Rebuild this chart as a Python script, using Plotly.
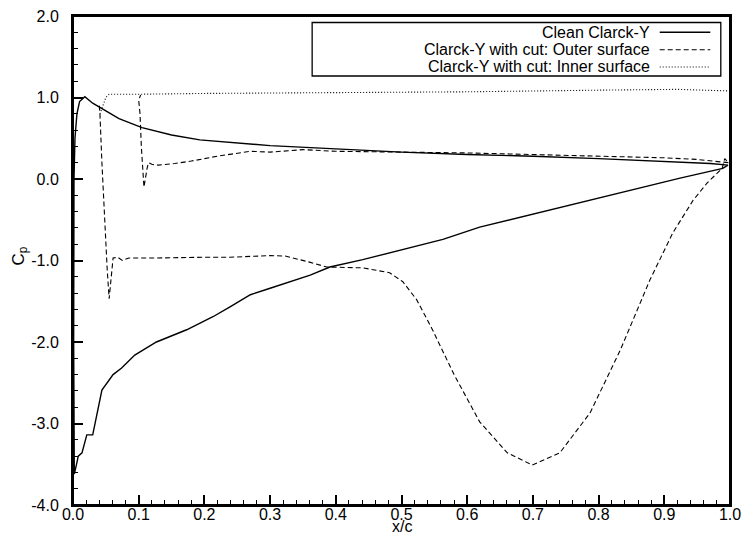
import plotly.graph_objects as go

# Clean Clarck-Y (closed loop: suction side TE->LE, then pressure side LE->TE)
clean_x = [0.997, 0.989, 0.924, 0.863, 0.787, 0.700, 0.665, 0.619, 0.563, 0.508,
           0.441, 0.391, 0.361, 0.300, 0.270, 0.239, 0.213, 0.173, 0.127, 0.094,
           0.074, 0.061, 0.044, 0.030, 0.021, 0.0137, 0.008, 0.0046, 0.002,
           0.001, 0.0015, 0.003, 0.006, 0.010, 0.018, 0.030, 0.046, 0.070, 0.105,
           0.150, 0.193, 0.250, 0.300, 0.400, 0.500, 0.600, 0.700, 0.800, 0.863,
           0.930, 0.970, 0.997]
clean_cp = [0.17, 0.13, 0.01, -0.11, -0.26, -0.44, -0.50, -0.59, -0.74, -0.85,
            -0.99, -1.08, -1.18, -1.34, -1.42, -1.57, -1.69, -1.85, -2.00, -2.16,
            -2.32, -2.40, -2.59, -3.14, -3.14, -3.36, -3.40, -3.53, -3.62,
            -2.00, 0.00, 0.50, 0.80, 0.95, 1.01, 0.93, 0.85, 0.74, 0.63,
            0.54, 0.48, 0.44, 0.41, 0.37, 0.33, 0.30, 0.28, 0.25, 0.23,
            0.21, 0.19, 0.17]

# Clarck-Y with cut: outer surface
outer_x = [0.040, 0.041, 0.044, 0.048, 0.052, 0.055, 0.058, 0.061, 0.068, 0.075,
           0.085, 0.120, 0.200, 0.239, 0.300, 0.323, 0.360, 0.386, 0.441, 0.482,
           0.502, 0.523, 0.546, 0.580, 0.619, 0.661, 0.699, 0.741, 0.787, 0.833,
           0.878, 0.913, 0.944, 0.965, 0.988, 0.992, 0.998,
           0.950, 0.900, 0.800, 0.700, 0.600, 0.500, 0.400, 0.350, 0.300, 0.270,
           0.220, 0.180, 0.155, 0.130, 0.120, 0.115, 0.113, 0.108, 0.104, 0.102,
           0.100, 0.103]
outer_cp = [0.90, 0.80, 0.20, -0.50, -1.10, -1.47, -1.20, -0.97, -0.96, -1.00,
            -0.97, -0.97, -0.96, -0.96, -0.94, -0.945, -1.02, -1.08, -1.09, -1.15,
            -1.26, -1.48, -1.83, -2.40, -2.98, -3.36, -3.51, -3.36, -2.87, -2.10,
            -1.24, -0.66, -0.26, -0.05, 0.13, 0.25, 0.20,
            0.24, 0.26, 0.28, 0.30, 0.32, 0.33, 0.34, 0.36, 0.33, 0.34,
            0.28, 0.22, 0.19, 0.17, 0.18, 0.20, 0.14, -0.10, 0.40, 0.80,
            0.97, 1.03]

# Clarck-Y with cut: inner surface
inner_x = [0.041, 0.045, 0.050, 0.055, 0.100, 0.200, 0.400, 0.600, 0.800, 0.880, 0.920, 1.000]
inner_cp = [0.80, 0.90, 1.00, 1.04, 1.04, 1.05, 1.06, 1.07, 1.09, 1.10, 1.10, 1.08]

legend_names = ["Clean Clarck-Y",
                "Clarck-Y with cut: Outer surface",
                "Clarck-Y with cut: Inner surface"]
x_ticks = [0.0, 0.1, 0.2, 0.3, 0.4, 0.5, 0.6, 0.7, 0.8, 0.9, 1.0]
y_ticks = [-4.0, -3.0, -2.0, -1.0, 0.0, 1.0, 2.0]

FONT = "Liberation Sans, Arial, sans-serif"
styles = [dict(width=1.4, dash="solid"),
          dict(width=1.1, dash="5px,3px"),
          dict(width=1.1, dash="1px,2px")]

fig = go.Figure()
for xs, ys, name, st in zip([clean_x, outer_x, inner_x], [clean_cp, outer_cp, inner_cp],
                            legend_names, styles):
    fig.add_trace(go.Scatter(x=xs, y=ys, mode="lines", name=name, showlegend=False,
                             line=dict(color="black", **st)))

# plot frame
fig.add_shape(type="rect", xref="paper", yref="paper", x0=0, x1=1, y0=0, y1=1,
              line=dict(color="black", width=2), layer="above")

# manual legend (text right-aligned, line sample on the right)
box = dict(x0=0.364, x1=0.986, y0=1.264, y1=1.92)
fig.add_shape(type="rect", xref="x", yref="y", line=dict(color="black", width=1.3),
              fillcolor="white", layer="above", **box)
rows_y = [1.80, 1.585, 1.375]
for name, st, ry in zip(legend_names, styles, rows_y):
    fig.add_annotation(x=0.881, y=ry, xref="x", yref="y", text=name, showarrow=False,
                       xanchor="right", yanchor="middle",
                       font=dict(family=FONT, size=16, color="black"))
    fig.add_shape(type="line", xref="x", yref="y", x0=0.893, x1=0.970, y0=ry, y1=ry,
                  layer="above", line=dict(color="black", **st))

axis_common = dict(showgrid=False, zeroline=False, showline=True, linecolor="black",
                   linewidth=2, mirror=True, ticks="inside", ticklen=10, tickwidth=1.5,
                   tickcolor="black", automargin=False, ticklabeloverflow="allow",
                   tickfont=dict(family=FONT, size=16, color="black"))
fig.update_xaxes(range=[0, 1], tickvals=x_ticks, ticktext=[f"{v:.1f}" for v in x_ticks],
                 minor=dict(ticks="inside", ticklen=5, dtick=0.02, tickcolor="black", tickwidth=1.2),
                 ticklabelstandoff=-6, **axis_common)
fig.update_yaxes(range=[-4, 2], tickvals=y_ticks, ticktext=[f"{v:.1f}" for v in y_ticks],
                 minor=dict(ticks="inside", ticklen=5, dtick=0.2, tickcolor="black", tickwidth=1.2),
                 ticklabelstandoff=9, **axis_common)

fig.add_annotation(x=0.5, y=0, xref="paper", yref="paper", text="x/c", showarrow=False,
                   xanchor="center", yanchor="middle", yshift=-21,
                   font=dict(family=FONT, size=16, color="black"))
fig.add_annotation(x=0, y=0.5, xref="paper", yref="paper", text="C<sub>p</sub>",
                   showarrow=False, textangle=-90, xanchor="center", yanchor="middle",
                   xshift=-54, yshift=4, font=dict(family=FONT, size=17, color="black"))

fig.update_layout(width=744, height=543, plot_bgcolor="white", paper_bgcolor="white",
                  margin=dict(l=73, r=14, t=16, b=38), showlegend=False)
# remove the page's default body margin so the figure sits at the window origin
fig.write_html("out.html", config={"displayModeBar": False},
               post_script="document.body.style.margin='0';document.body.style.overflow='hidden';")
